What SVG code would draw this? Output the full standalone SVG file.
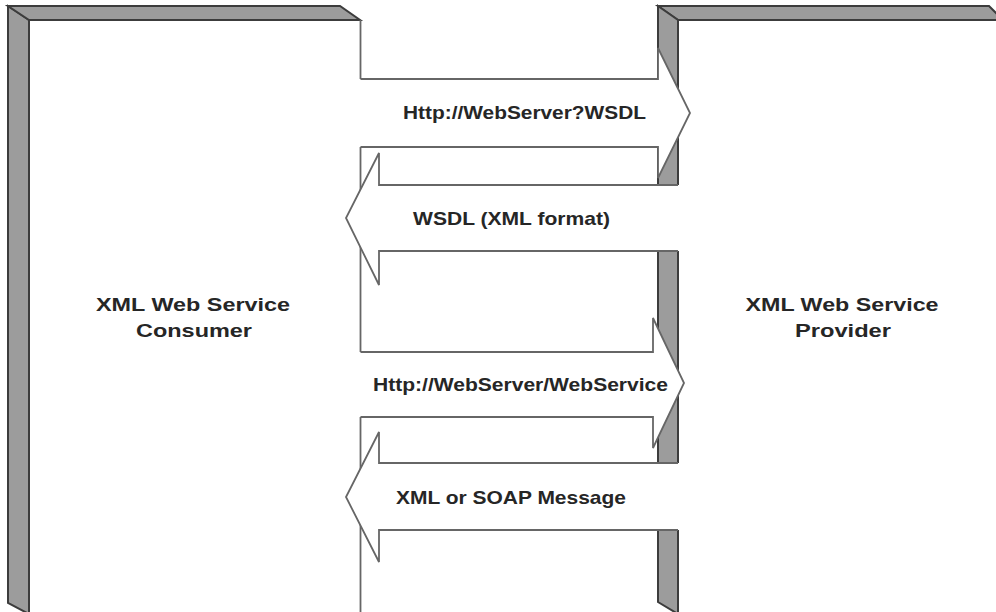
<svg xmlns="http://www.w3.org/2000/svg" width="996" height="612" viewBox="0 0 996 612">
  <style>
    .bevel { fill: #9c9c9c; stroke: #3c3c3c; stroke-width: 2; stroke-linejoin: miter; }
    .edge { fill: none; stroke: #666; stroke-width: 1.8; stroke-linejoin: miter; }
    .arrowfill { fill: #fff; stroke: none; }
    .lbl { font-family: "Liberation Sans", Arial, sans-serif; font-weight: bold; font-size: 19px; fill: #262626; }
  </style>
  <rect x="0" y="0" width="996" height="612" fill="#fff"/>

  <g id="consumer">
    <polygon class="bevel" points="8,6 29,20 29,614 8,603"/>
    <polygon class="bevel" points="8,6 340,6 360,20 29,20"/>
    <polyline class="edge" points="360.5,20 360.5,79"/>
    <polyline class="edge" points="360.5,147 360.5,352"/>
    <polyline class="edge" points="360.5,417 360.5,614"/>
    <text class="lbl" x="193" y="311" text-anchor="middle" textLength="194" lengthAdjust="spacingAndGlyphs">XML Web Service</text>
    <text class="lbl" x="194" y="337" text-anchor="middle" textLength="116" lengthAdjust="spacingAndGlyphs">Consumer</text>
  </g>

  <g id="provider">
    <polygon class="bevel" points="658,6 989,6 1003,20 678,20"/>
    <polygon class="bevel" points="658,6 678,20 678,614 658,602"/>
    <text class="lbl" x="842" y="311" text-anchor="middle" textLength="193" lengthAdjust="spacingAndGlyphs">XML Web Service</text>
    <text class="lbl" x="843" y="337" text-anchor="middle" textLength="96" lengthAdjust="spacingAndGlyphs">Provider</text>
  </g>

  <g id="connectors">
    <g id="arrow-wsdl-request">
      <polygon class="arrowfill" points="360,79 658,79 658,48 690,113 658,178 658,147 360,147"/>
      <polyline class="edge" points="360.5,79 658,79 658,48 690,113 658,178 658,147 360.5,147"/>
      <text class="lbl" x="403" y="119" textLength="243" lengthAdjust="spacingAndGlyphs">Http://WebServer?WSDL</text>
    </g>
    <g id="arrow-wsdl-response">
      <polygon class="arrowfill" points="700,185 379,185 379,153 346,218 379,285 379,251 700,251"/>
      <polyline class="edge" points="678,185 379,185 379,153 346,218 379,285 379,251 678,251"/>
      <text class="lbl" x="413" y="225" textLength="197" lengthAdjust="spacingAndGlyphs">WSDL (XML format)</text>
    </g>
    <g id="arrow-service-request">
      <polygon class="arrowfill" points="360,352 653,352 653,318 684,383 653,448 653,417 360,417"/>
      <polyline class="edge" points="360.5,352 653,352 653,318 684,383 653,448 653,417 360.5,417"/>
      <text class="lbl" x="373" y="391" textLength="295" lengthAdjust="spacingAndGlyphs">Http://WebServer/WebService</text>
    </g>
    <g id="arrow-service-response">
      <polygon class="arrowfill" points="700,463 379,463 379,432 346,497 379,562 379,530 700,530"/>
      <polyline class="edge" points="678,463 379,463 379,432 346,497 379,562 379,530 678,530"/>
      <text class="lbl" x="396" y="504" textLength="230" lengthAdjust="spacingAndGlyphs">XML or SOAP Message</text>
    </g>
  </g>
</svg>
